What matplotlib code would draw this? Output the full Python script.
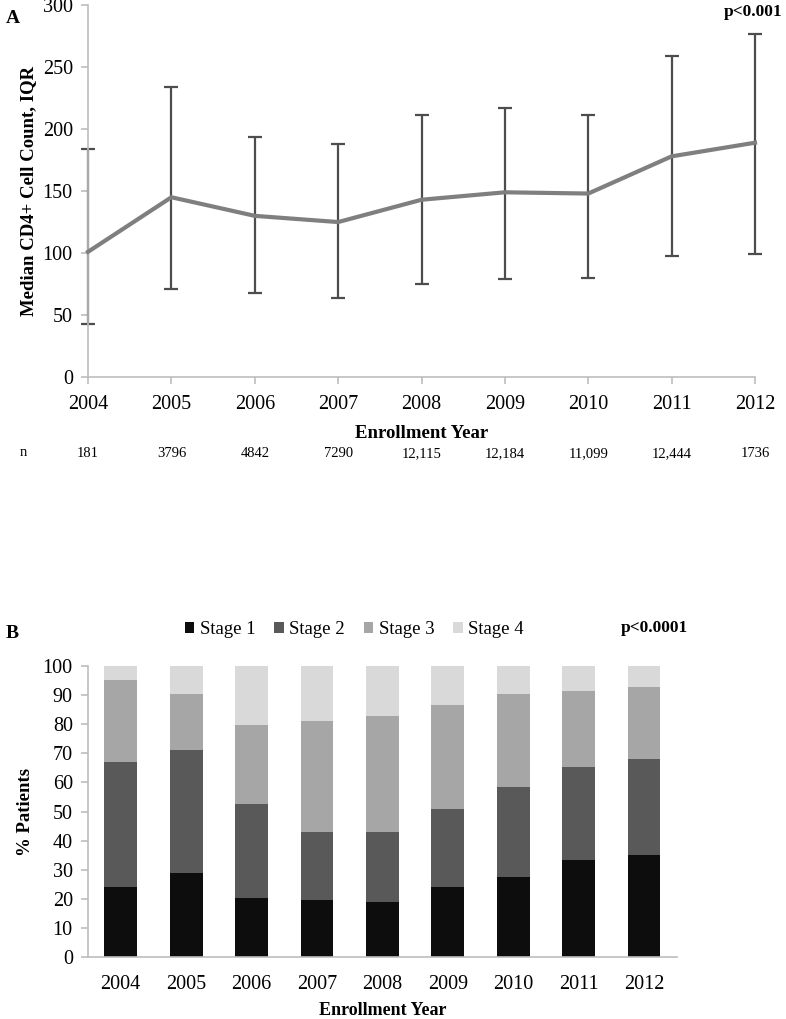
import matplotlib
matplotlib.use('Agg')
import matplotlib.pyplot as plt
import numpy as np

plt.rcParams['font.family'] = ['Liberation Serif', 'DejaVu Serif']

# Panel A: median CD4+ count with IQR
years = ['2004', '2005', '2006', '2007', '2008', '2009', '2010', '2011', '2012']
median_cd4 = [101, 145, 130, 125, 143, 149, 148, 178, 189]
iqr_low = [43, 71, 68, 64, 75, 79, 80, 98, 99]
iqr_high = [184, 234, 194, 188, 211, 217, 211, 259, 277]
n_patients = ['181', '3796', '4842', '7290', '12,115', '12,184', '11,099', '12,444', '1736']

# Panel B: WHO stage distribution (%)
stage_names = ['Stage 1', 'Stage 2', 'Stage 3', 'Stage 4']
stage1 = [24.0, 28.9, 20.2, 19.6, 19.0, 24.0, 27.4, 33.2, 35.0]
stage2 = [43.0, 42.1, 32.4, 23.2, 23.8, 26.7, 30.9, 32.0, 33.0]
stage3 = [28.2, 19.4, 27.2, 38.4, 39.9, 35.8, 32.1, 26.3, 24.8]
stage4 = [4.8, 9.6, 20.2, 18.8, 17.3, 13.5, 9.6, 8.5, 7.2]
stage_colors = ['#0d0d0d', '#595959', '#a6a6a6', '#d9d9d9']

spine_col = '#bdbdbd'

fig = plt.figure(figsize=(7.86, 10.19), dpi=100)

# ---------- Panel A ----------
ax1 = fig.add_axes([0.112, 0.630, 0.8486, 0.365])
x = np.arange(len(years))
med = np.array(median_cd4)
ax1.errorbar(x, med, yerr=[med - np.array(iqr_low), np.array(iqr_high) - med],
             fmt='none', ecolor='#4d4d4d', elinewidth=1.6, capsize=5, capthick=1.6,
             clip_on=False, zorder=2)
ax1.plot(x, med, color='#7f7f7f', lw=3, clip_on=False, zorder=3)
ax1.set_xlim(0, len(years) - 1)
ax1.set_ylim(0, 300)
ax1.set_yticks(range(0, 301, 50))
ax1.set_xticks(x)
ax1.set_xticklabels(years)
for s in ['top', 'right']:
    ax1.spines[s].set_visible(False)
for s in ['left', 'bottom']:
    ax1.spines[s].set_color(spine_col)
    ax1.spines[s].set_linewidth(1.2)
ax1.tick_params(axis='both', colors=spine_col, labelcolor='black', labelsize=14.5,
                length=5, width=1.2, direction='out')
ax1.tick_params(axis='y', pad=6)
ax1.tick_params(axis='x', pad=8)
ax1.set_ylabel('Median CD4+ Cell Count, IQR', fontsize=13.5, fontweight='bold', labelpad=4)
ax1.set_xlabel('Enrollment Year', fontsize=13.5, fontweight='bold', labelpad=8)
fig.text(782 / 786, 1 - 12 / 1019, 'p<0.001', ha='right', va='center',
         fontsize=12.5, fontweight='bold')
fig.text(0.007, 0.982, 'A', fontsize=14, fontweight='bold', ha='left', va='center')

# sample size row
fig.text(20 / 786, 1 - 453 / 1019, 'n', fontsize=10.5, ha='left', va='center')
for i, n in enumerate(n_patients):
    ax1.annotate(n, xy=(i, 0), xycoords='data', xytext=(0, -55), textcoords='offset points',
                 ha='center', va='center', fontsize=10.5, annotation_clip=False)

# ---------- Panel B ----------
ax2 = fig.add_axes([0.112, 0.0608, 0.749, 0.2856])
bottom = np.zeros(len(years))
for name, vals, col in zip(stage_names, [stage1, stage2, stage3, stage4], stage_colors):
    ax2.bar(x, vals, width=0.5, bottom=bottom, color=col, label=name, zorder=2)
    bottom += np.array(vals)
ax2.set_xlim(-0.5, len(years) - 0.5)
ax2.set_ylim(0, 100)
ax2.set_yticks(range(0, 101, 10))
ax2.set_xticks(x)
ax2.set_xticklabels(years)
for s in ['top', 'right']:
    ax2.spines[s].set_visible(False)
for s in ['left', 'bottom']:
    ax2.spines[s].set_color(spine_col)
    ax2.spines[s].set_linewidth(1.2)
ax2.tick_params(axis='y', colors=spine_col, labelcolor='black', labelsize=14.5,
                length=5, width=1.2, direction='out', pad=6)
ax2.tick_params(axis='x', length=0, labelcolor='black', labelsize=14.5, pad=13)
ax2.set_ylabel('% Patients', fontsize=13.5, fontweight='bold', labelpad=6)
ax2.set_xlabel('Enrollment Year', fontsize=13, fontweight='bold', labelpad=6)
ax2.legend(loc='lower left', bbox_to_anchor=(0.152, 1.07), ncol=4, frameon=False,
           fontsize=13.5, handlelength=0.5, handleheight=0.5, handletextpad=0.3,
           columnspacing=1.0, borderaxespad=0)
fig.text(688 / 786, 1 - 628 / 1019, 'p<0.0001', ha='right', va='center',
         fontsize=12.5, fontweight='bold')
fig.text(0.007, 1 - 633 / 1019, 'B', fontsize=14, fontweight='bold', ha='left', va='center')

fig.savefig('out.png', dpi=100)
